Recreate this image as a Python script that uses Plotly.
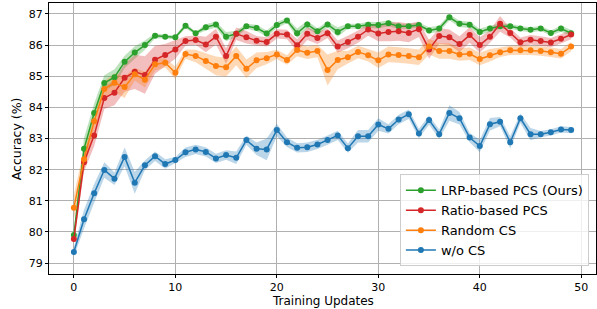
import plotly.graph_objects as go

steps = list(range(50))

lrp = [79.90, 82.67, 83.82, 84.78, 84.97, 85.46, 85.76, 86.00, 86.30, 86.27,
       86.25, 86.62, 86.38, 86.57, 86.66, 86.27, 86.36, 86.60, 86.55, 86.37,
       86.64, 86.79, 86.38, 86.66, 86.44, 86.66, 86.42, 86.60, 86.60, 86.65,
       86.64, 86.70, 86.60, 86.60, 86.64, 86.47, 86.53, 86.89, 86.68, 86.65,
       86.42, 86.53, 86.60, 86.60, 86.53, 86.49, 86.53, 86.39, 86.53, 86.38]
lrp_sd = [0.10, 0.35, 0.30, 0.25, 0.25, 0.20, 0.20, 0.15, 0.08, 0.06,
          0.06, 0.08, 0.05, 0.10, 0.10, 0.15, 0.10, 0.08, 0.10, 0.10,
          0.10, 0.08, 0.15, 0.12, 0.10, 0.10, 0.15, 0.08, 0.08, 0.10,
          0.10, 0.10, 0.08, 0.08, 0.08, 0.10, 0.10, 0.10, 0.10, 0.10,
          0.10, 0.10, 0.08, 0.08, 0.08, 0.08, 0.08, 0.08, 0.10, 0.10]

ratio = [79.77, 82.24, 83.10, 84.30, 84.47, 84.95, 85.14, 85.04, 85.53, 85.68,
         85.86, 86.13, 86.16, 86.02, 86.27, 85.65, 86.36, 86.25, 86.14, 86.10,
         86.36, 86.34, 85.99, 86.36, 86.23, 86.38, 85.95, 86.10, 86.27, 86.50,
         86.37, 86.42, 86.44, 86.39, 86.51, 85.86, 86.29, 86.25, 86.03, 86.32,
         86.00, 86.27, 86.68, 86.39, 86.09, 86.17, 86.13, 86.08, 86.20, 86.34]
ratio_sd = [0.10, 0.30, 0.35, 0.35, 0.40, 0.45, 0.55, 0.60, 0.45, 0.35,
            0.30, 0.15, 0.15, 0.25, 0.25, 0.25, 0.20, 0.20, 0.15, 0.15,
            0.15, 0.15, 0.20, 0.20, 0.20, 0.15, 0.20, 0.20, 0.20, 0.20,
            0.25, 0.30, 0.30, 0.30, 0.25, 0.30, 0.25, 0.25, 0.25, 0.25,
            0.25, 0.20, 0.25, 0.15, 0.15, 0.15, 0.15, 0.15, 0.15, 0.15]

rand = [80.78, 82.33, 83.55, 84.59, 84.79, 84.65, 85.06, 84.89, 85.38, 85.43,
        85.11, 85.71, 85.65, 85.49, 85.33, 85.29, 85.65, 85.24, 85.51, 85.58,
        85.70, 85.52, 85.84, 85.75, 85.81, 85.20, 85.52, 85.61, 85.78, 85.67,
        85.51, 85.70, 85.68, 85.65, 85.61, 85.95, 85.81, 85.81, 85.70, 85.72,
        85.55, 85.67, 85.77, 85.83, 85.83, 85.83, 85.81, 85.77, 85.72, 85.95]
rand_sd = [0.40, 0.35, 0.30, 0.25, 0.30, 0.35, 0.20, 0.25, 0.20, 0.15,
           0.20, 0.15, 0.20, 0.25, 0.30, 0.30, 0.30, 0.30, 0.25, 0.20,
           0.15, 0.15, 0.20, 0.20, 0.20, 0.50, 0.30, 0.20, 0.20, 0.20,
           0.25, 0.25, 0.25, 0.25, 0.25, 0.25, 0.25, 0.25, 0.20, 0.20,
           0.20, 0.20, 0.15, 0.15, 0.15, 0.15, 0.15, 0.15, 0.15, 0.15]

nocs = [79.36, 80.41, 81.24, 81.99, 81.71, 82.41, 81.58, 82.14, 82.43, 82.18,
        82.31, 82.56, 82.65, 82.57, 82.36, 82.47, 82.38, 82.95, 82.67, 82.65,
        83.27, 82.88, 82.70, 82.72, 82.81, 82.95, 83.10, 82.69, 83.07, 83.07,
        83.45, 83.31, 83.61, 83.78, 83.16, 83.59, 83.14, 83.82, 83.65, 83.03,
        82.76, 83.46, 83.54, 82.88, 83.65, 83.14, 83.14, 83.20, 83.29, 83.27]
nocs_sd = [0.15, 0.30, 0.30, 0.25, 0.20, 0.30, 0.35, 0.15, 0.15, 0.15,
           0.10, 0.15, 0.15, 0.15, 0.15, 0.15, 0.20, 0.15, 0.20, 0.35,
           0.20, 0.15, 0.15, 0.15, 0.15, 0.15, 0.15, 0.15, 0.20, 0.20,
           0.20, 0.15, 0.15, 0.15, 0.15, 0.15, 0.15, 0.25, 0.20, 0.15,
           0.20, 0.20, 0.15, 0.20, 0.15, 0.20, 0.10, 0.10, 0.10, 0.10]

x_ticks = [0, 10, 20, 30, 40, 50]
y_ticks = [79, 80, 81, 82, 83, 84, 85, 86, 87]

names = ["LRP-based PCS (Ours)", "Ratio-based PCS", "Random CS", "w/o CS"]
colors = ["#2ca02c", "#d62728", "#ff7f0e", "#1f77b4"]
fills = ["rgba(44,160,44,0.3)", "rgba(214,39,40,0.3)",
         "rgba(255,127,14,0.3)", "rgba(31,119,180,0.3)"]
series = [(lrp, lrp_sd), (ratio, ratio_sd), (rand, rand_sd), (nocs, nocs_sd)]

fig = go.Figure()

for (vals, sd), fc in zip(series, fills):
    upper = [v + s for v, s in zip(vals, sd)]
    lower = [v - s for v, s in zip(vals, sd)]
    fig.add_trace(go.Scatter(x=steps + steps[::-1], y=upper + lower[::-1],
                             fill="toself", fillcolor=fc, mode="none",
                             line=dict(width=0), showlegend=False,
                             hoverinfo="skip"))

for (vals, sd), name, c in zip(series, names, colors):
    fig.add_trace(go.Scatter(x=steps, y=vals, mode="lines+markers", name=name,
                             line=dict(color=c, width=1.5),
                             marker=dict(color=c, size=6)))

axis_common = dict(showline=True, linecolor="black", linewidth=1, mirror=True,
                   ticks="outside", ticklen=3, tickcolor="black",
                   showgrid=True, gridcolor="#b0b0b0", gridwidth=1,
                   zeroline=False, automargin=False,
                   tickfont=dict(size=11, color="black"))

fig.update_xaxes(range=[-2.45, 51.45], tickvals=x_ticks, **axis_common)
fig.update_yaxes(range=[78.65, 87.35], tickvals=y_ticks, **axis_common)

fig.add_annotation(text="Training Updates", xref="paper", yref="paper",
                   x=0.5, y=-0.101, xanchor="center", yanchor="middle",
                   showarrow=False, font=dict(size=12, color="black"))
fig.add_annotation(text="Accuracy (%)", xref="paper", yref="paper",
                   x=-0.059, y=0.5, xanchor="center", yanchor="middle",
                   textangle=-90, showarrow=False,
                   font=dict(size=12.5, color="black"))

fig.update_layout(
    width=597, height=309,
    margin=dict(l=49, r=1, t=3, b=35, autoexpand=False),
    paper_bgcolor="white", plot_bgcolor="white",
    font=dict(family="DejaVu Sans", color="black"),
    legend=dict(x=0.987, y=0.028, xanchor="right", yanchor="bottom",
                bgcolor="rgba(255,255,255,0.8)", bordercolor="#cccccc",
                borderwidth=1, font=dict(size=13, color="black"),
                tracegroupgap=0, itemwidth=30),
)

fig.write_html("out.html", config={"displayModeBar": False},
               post_script="document.body.style.margin='0';document.body.style.overflow='hidden';")
